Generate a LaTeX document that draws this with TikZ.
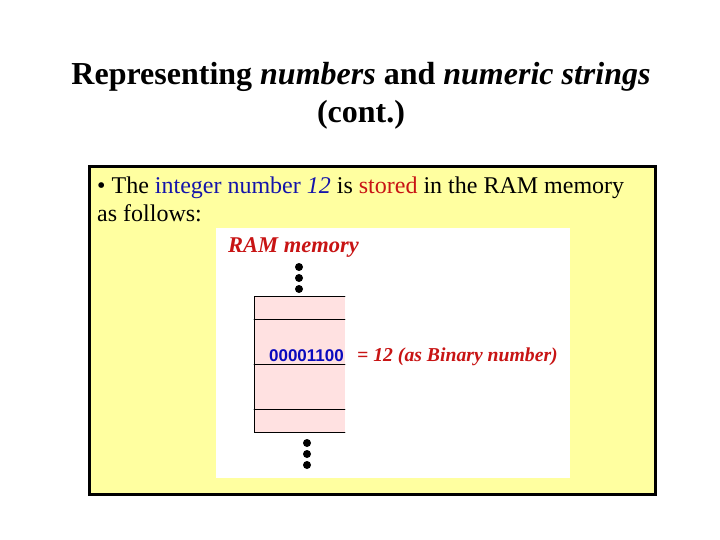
\documentclass[tikz,border=0pt]{standalone}
\usepackage{fontspec}
\setmainfont{Liberation Serif}
\setsansfont{Liberation Sans}
\usepackage{xcolor}
\usetikzlibrary{positioning}

\definecolor{slideyellow}{RGB}{255,255,160}
\definecolor{cellpink}{RGB}{255,225,225}
\definecolor{textblue}{RGB}{20,20,170}
\definecolor{textred}{RGB}{200,20,20}
\definecolor{bitblue}{RGB}{10,10,190}

\tikzset{
  titletext/.style={font=\fontsize{32}{38}\selectfont\bfseries, align=center},
  bodytext/.style={font=\fontsize{24}{28}\selectfont, anchor=base west, inner sep=0pt},
  figlabel/.style={font=\fontsize{22.5}{26}\selectfont\bfseries\itshape, text=textred, anchor=base west, inner sep=0pt},
  memdot/.style={circle, fill=black, inner sep=0pt, minimum size=8pt},
}

\begin{document}
\begin{tikzpicture}[x=1pt, y=-1pt, line cap=round]
    \useasboundingbox (0,0) rectangle (720,540);
    \fill[white] (0,0) rectangle (720,540);

    % Title
    \node[titletext] (title) at (361,96)
        {Representing \textit{numbers} and \textit{numeric strings}\\(cont.)};

    % Yellow frame
    \draw[line width=3pt, fill=slideyellow] (89,167) rectangle (655,494);

    % Bullet text
    \node[bodytext] (line1) at (97,194)
        {\textbullet\ The \textcolor{textblue}{integer number \textit{12}} is \textcolor{textred}{stored} in the RAM memory};
    \node[bodytext] (line2) at (97,222) {as follows:};

    % Picture area
    \fill[white] (216,228) rectangle (570,478);
    \node[figlabel] (ram) at (228,252) {RAM memory};

    % Memory cells
    \fill[cellpink] (254,296) rectangle (345,432);
    \draw[line width=0.9pt] (345,296) -- (254,296) -- (254,432) -- (345,432);
    \foreach \yy in {319,364,409}
        \draw[line width=0.9pt] (254,\yy) -- (345,\yy);

    \node[font=\fontsize{17}{20}\selectfont\sffamily\bfseries, text=bitblue,
          anchor=base east, inner sep=0pt] (bits) at (344,361) {00001100};
    \node[figlabel, font=\fontsize{19.7}{24}\selectfont\bfseries\itshape]
        (value) at (357,361) {= 12 (as Binary number)};

    % Ellipsis dots
    \foreach \yy [count=\i] in {267,278,289}
        \node[memdot] (top\i) at (299,\yy) {};
    \foreach \yy [count=\i] in {443,454,465}
        \node[memdot] (bot\i) at (307,\yy) {};
\end{tikzpicture}
\end{document}
